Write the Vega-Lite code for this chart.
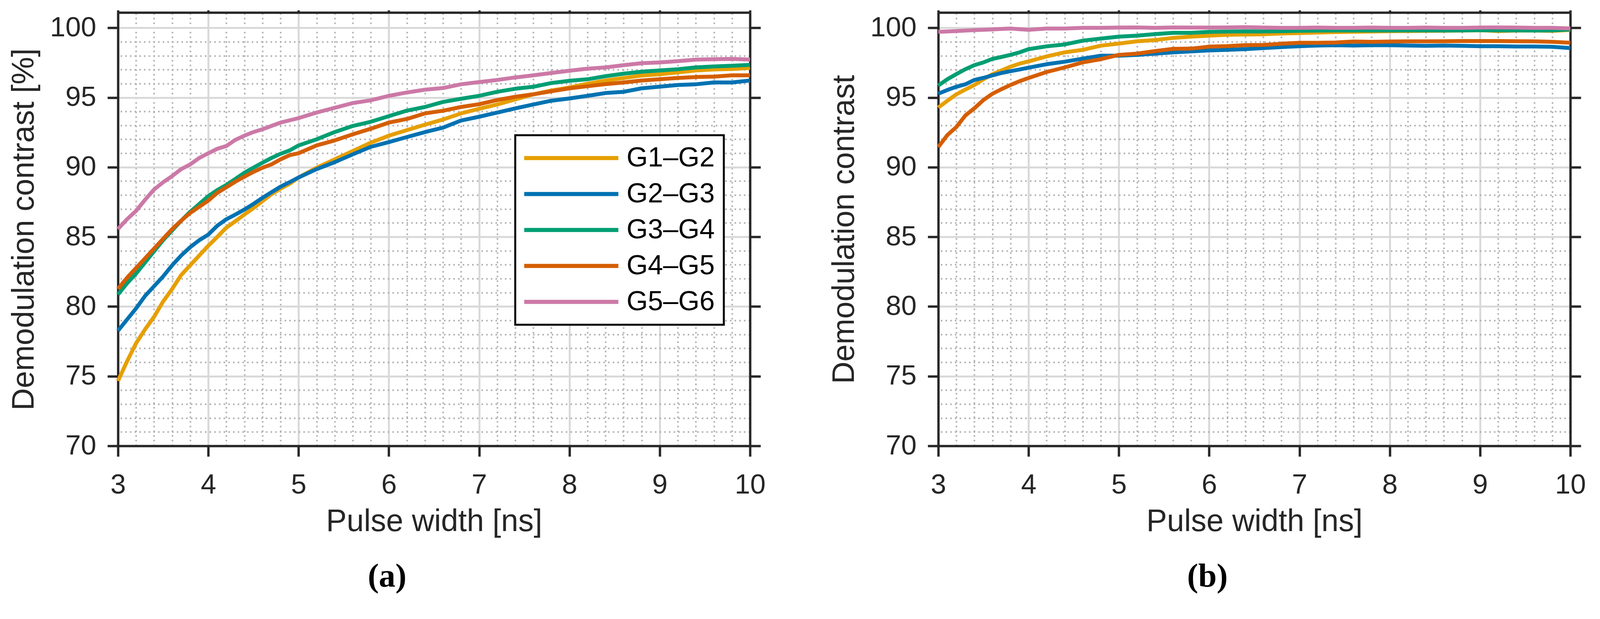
{
  "$schema": "https://vega.github.io/schema/vega-lite/v6.json",
  "background": "white",
  "padding": {"left": 22, "top": 23, "right": 20, "bottom": 10},
  "spacing": 162,
  "datasets": {
    "a": [
      {"x": 3.0, "G1–G2": 74.66, "G2–G3": 78.26, "G3–G4": 80.86, "G4–G5": 81.26, "G5–G6": 85.56},
      {"x": 3.1, "G1–G2": 76.06, "G2–G3": 79.06, "G3–G4": 81.66, "G4–G5": 82.06, "G5–G6": 86.26},
      {"x": 3.2, "G1–G2": 77.36, "G2–G3": 79.86, "G3–G4": 82.36, "G4–G5": 82.76, "G5–G6": 86.86},
      {"x": 3.3, "G1–G2": 78.36, "G2–G3": 80.76, "G3–G4": 83.16, "G4–G5": 83.46, "G5–G6": 87.66},
      {"x": 3.4, "G1–G2": 79.26, "G2–G3": 81.46, "G3–G4": 83.96, "G4–G5": 84.16, "G5–G6": 88.4},
      {"x": 3.5, "G1–G2": 80.36, "G2–G3": 82.16, "G3–G4": 84.76, "G4–G5": 84.86, "G5–G6": 88.92},
      {"x": 3.6, "G1–G2": 81.26, "G2–G3": 82.96, "G3–G4": 85.46, "G4–G5": 85.56, "G5–G6": 89.36},
      {"x": 3.7, "G1–G2": 82.26, "G2–G3": 83.66, "G3–G4": 86.16, "G4–G5": 86.16, "G5–G6": 89.86},
      {"x": 3.8, "G1–G2": 82.96, "G2–G3": 84.26, "G3–G4": 86.8, "G4–G5": 86.72, "G5–G6": 90.2},
      {"x": 3.9, "G1–G2": 83.66, "G2–G3": 84.76, "G3–G4": 87.36, "G4–G5": 87.16, "G5–G6": 90.66},
      {"x": 4.0, "G1–G2": 84.36, "G2–G3": 85.16, "G3–G4": 87.92, "G4–G5": 87.6, "G5–G6": 91.0},
      {"x": 4.1, "G1–G2": 85.0, "G2–G3": 85.8, "G3–G4": 88.36, "G4–G5": 88.16, "G5–G6": 91.32},
      {"x": 4.2, "G1–G2": 85.66, "G2–G3": 86.26, "G3–G4": 88.72, "G4–G5": 88.56, "G5–G6": 91.52},
      {"x": 4.3, "G1–G2": 86.12, "G2–G3": 86.6, "G3–G4": 89.16, "G4–G5": 88.96, "G5–G6": 91.96},
      {"x": 4.4, "G1–G2": 86.6, "G2–G3": 86.96, "G3–G4": 89.6, "G4–G5": 89.32, "G5–G6": 92.26},
      {"x": 4.5, "G1–G2": 87.06, "G2–G3": 87.36, "G3–G4": 89.96, "G4–G5": 89.66, "G5–G6": 92.52},
      {"x": 4.6, "G1–G2": 87.56, "G2–G3": 87.8, "G3–G4": 90.32, "G4–G5": 89.96, "G5–G6": 92.72},
      {"x": 4.7, "G1–G2": 88.06, "G2–G3": 88.2, "G3–G4": 90.66, "G4–G5": 90.2, "G5–G6": 92.96},
      {"x": 4.8, "G1–G2": 88.46, "G2–G3": 88.6, "G3–G4": 90.96, "G4–G5": 90.56, "G5–G6": 93.2},
      {"x": 4.9, "G1–G2": 88.8, "G2–G3": 88.92, "G3–G4": 91.2, "G4–G5": 90.86, "G5–G6": 93.36},
      {"x": 5.0, "G1–G2": 89.26, "G2–G3": 89.26, "G3–G4": 91.56, "G4–G5": 91.0, "G5–G6": 93.52},
      {"x": 5.2, "G1–G2": 89.96, "G2–G3": 89.86, "G3–G4": 92.0, "G4–G5": 91.56, "G5–G6": 93.92},
      {"x": 5.4, "G1–G2": 90.56, "G2–G3": 90.36, "G3–G4": 92.52, "G4–G5": 91.92, "G5–G6": 94.26},
      {"x": 5.6, "G1–G2": 91.16, "G2–G3": 90.92, "G3–G4": 92.96, "G4–G5": 92.36, "G5–G6": 94.6},
      {"x": 5.8, "G1–G2": 91.76, "G2–G3": 91.46, "G3–G4": 93.26, "G4–G5": 92.76, "G5–G6": 94.8},
      {"x": 6.0, "G1–G2": 92.26, "G2–G3": 91.8, "G3–G4": 93.66, "G4–G5": 93.2, "G5–G6": 95.12},
      {"x": 6.2, "G1–G2": 92.66, "G2–G3": 92.16, "G3–G4": 94.06, "G4–G5": 93.46, "G5–G6": 95.36},
      {"x": 6.4, "G1–G2": 93.05, "G2–G3": 92.52, "G3–G4": 94.32, "G4–G5": 93.86, "G5–G6": 95.56},
      {"x": 6.6, "G1–G2": 93.42, "G2–G3": 92.84, "G3–G4": 94.68, "G4–G5": 94.05, "G5–G6": 95.68},
      {"x": 6.8, "G1–G2": 93.86, "G2–G3": 93.35, "G3–G4": 94.91, "G4–G5": 94.32, "G5–G6": 95.95},
      {"x": 7.0, "G1–G2": 94.19, "G2–G3": 93.62, "G3–G4": 95.12, "G4–G5": 94.52, "G5–G6": 96.11},
      {"x": 7.2, "G1–G2": 94.5, "G2–G3": 93.92, "G3–G4": 95.41, "G4–G5": 94.82, "G5–G6": 96.26},
      {"x": 7.4, "G1–G2": 94.86, "G2–G3": 94.22, "G3–G4": 95.63, "G4–G5": 95.05, "G5–G6": 96.44},
      {"x": 7.6, "G1–G2": 95.23, "G2–G3": 94.5, "G3–G4": 95.77, "G4–G5": 95.23, "G5–G6": 96.59},
      {"x": 7.8, "G1–G2": 95.5, "G2–G3": 94.77, "G3–G4": 96.04, "G4–G5": 95.45, "G5–G6": 96.76},
      {"x": 8.0, "G1–G2": 95.72, "G2–G3": 94.93, "G3–G4": 96.2, "G4–G5": 95.66, "G5–G6": 96.92},
      {"x": 8.2, "G1–G2": 95.99, "G2–G3": 95.12, "G3–G4": 96.31, "G4–G5": 95.81, "G5–G6": 97.07},
      {"x": 8.4, "G1–G2": 96.22, "G2–G3": 95.32, "G3–G4": 96.53, "G4–G5": 95.96, "G5–G6": 97.16},
      {"x": 8.6, "G1–G2": 96.4, "G2–G3": 95.41, "G3–G4": 96.71, "G4–G5": 96.08, "G5–G6": 97.32},
      {"x": 8.8, "G1–G2": 96.58, "G2–G3": 95.66, "G3–G4": 96.85, "G4–G5": 96.22, "G5–G6": 97.46},
      {"x": 9.0, "G1–G2": 96.67, "G2–G3": 95.78, "G3–G4": 96.94, "G4–G5": 96.31, "G5–G6": 97.52},
      {"x": 9.2, "G1–G2": 96.8, "G2–G3": 95.9, "G3–G4": 97.03, "G4–G5": 96.4, "G5–G6": 97.61},
      {"x": 9.4, "G1–G2": 96.94, "G2–G3": 95.95, "G3–G4": 97.16, "G4–G5": 96.47, "G5–G6": 97.72},
      {"x": 9.6, "G1–G2": 97.01, "G2–G3": 96.08, "G3–G4": 97.23, "G4–G5": 96.5, "G5–G6": 97.75},
      {"x": 9.8, "G1–G2": 97.05, "G2–G3": 96.08, "G3–G4": 97.28, "G4–G5": 96.59, "G5–G6": 97.77},
      {"x": 10.0, "G1–G2": 97.12, "G2–G3": 96.22, "G3–G4": 97.34, "G4–G5": 96.59, "G5–G6": 97.72}
    ],
    "b": [
      {"x": 3.0, "G1–G2": 94.28, "G2–G3": 95.27, "G3–G4": 95.86, "G4–G5": 91.44, "G5–G6": 99.71},
      {"x": 3.1, "G1–G2": 94.76, "G2–G3": 95.54, "G3–G4": 96.31, "G4–G5": 92.3, "G5–G6": 99.74},
      {"x": 3.2, "G1–G2": 95.23, "G2–G3": 95.77, "G3–G4": 96.68, "G4–G5": 92.88, "G5–G6": 99.77},
      {"x": 3.3, "G1–G2": 95.57, "G2–G3": 95.95, "G3–G4": 97.03, "G4–G5": 93.71, "G5–G6": 99.8},
      {"x": 3.4, "G1–G2": 95.9, "G2–G3": 96.26, "G3–G4": 97.32, "G4–G5": 94.23, "G5–G6": 99.84},
      {"x": 3.5, "G1–G2": 96.31, "G2–G3": 96.41, "G3–G4": 97.52, "G4–G5": 94.82, "G5–G6": 99.86},
      {"x": 3.6, "G1–G2": 96.67, "G2–G3": 96.59, "G3–G4": 97.77, "G4–G5": 95.27, "G5–G6": 99.89},
      {"x": 3.7, "G1–G2": 96.94, "G2–G3": 96.76, "G3–G4": 97.91, "G4–G5": 95.6, "G5–G6": 99.92},
      {"x": 3.8, "G1–G2": 97.21, "G2–G3": 96.89, "G3–G4": 98.06, "G4–G5": 95.9, "G5–G6": 99.95},
      {"x": 3.9, "G1–G2": 97.43, "G2–G3": 97.01, "G3–G4": 98.24, "G4–G5": 96.17, "G5–G6": 99.9},
      {"x": 4.0, "G1–G2": 97.59, "G2–G3": 97.14, "G3–G4": 98.47, "G4–G5": 96.4, "G5–G6": 99.86},
      {"x": 4.2, "G1–G2": 97.95, "G2–G3": 97.39, "G3–G4": 98.67, "G4–G5": 96.83, "G5–G6": 99.95},
      {"x": 4.4, "G1–G2": 98.24, "G2–G3": 97.57, "G3–G4": 98.81, "G4–G5": 97.16, "G5–G6": 99.95},
      {"x": 4.6, "G1–G2": 98.42, "G2–G3": 97.79, "G3–G4": 99.08, "G4–G5": 97.52, "G5–G6": 100.0},
      {"x": 4.8, "G1–G2": 98.72, "G2–G3": 98.0, "G3–G4": 99.23, "G4–G5": 97.75, "G5–G6": 100.0},
      {"x": 5.0, "G1–G2": 98.87, "G2–G3": 98.0, "G3–G4": 99.37, "G4–G5": 98.06, "G5–G6": 100.02},
      {"x": 5.2, "G1–G2": 99.03, "G2–G3": 98.06, "G3–G4": 99.44, "G4–G5": 98.15, "G5–G6": 100.03},
      {"x": 5.4, "G1–G2": 99.12, "G2–G3": 98.15, "G3–G4": 99.55, "G4–G5": 98.33, "G5–G6": 100.0},
      {"x": 5.6, "G1–G2": 99.28, "G2–G3": 98.24, "G3–G4": 99.64, "G4–G5": 98.49, "G5–G6": 100.03},
      {"x": 5.8, "G1–G2": 99.37, "G2–G3": 98.31, "G3–G4": 99.64, "G4–G5": 98.51, "G5–G6": 100.02},
      {"x": 6.0, "G1–G2": 99.44, "G2–G3": 98.38, "G3–G4": 99.71, "G4–G5": 98.65, "G5–G6": 100.02},
      {"x": 6.2, "G1–G2": 99.5, "G2–G3": 98.42, "G3–G4": 99.73, "G4–G5": 98.69, "G5–G6": 100.03},
      {"x": 6.4, "G1–G2": 99.52, "G2–G3": 98.47, "G3–G4": 99.75, "G4–G5": 98.76, "G5–G6": 100.05},
      {"x": 6.6, "G1–G2": 99.54, "G2–G3": 98.55, "G3–G4": 99.74, "G4–G5": 98.77, "G5–G6": 100.02},
      {"x": 6.8, "G1–G2": 99.59, "G2–G3": 98.62, "G3–G4": 99.76, "G4–G5": 98.86, "G5–G6": 100.0},
      {"x": 7.0, "G1–G2": 99.63, "G2–G3": 98.68, "G3–G4": 99.79, "G4–G5": 98.93, "G5–G6": 100.0},
      {"x": 7.2, "G1–G2": 99.66, "G2–G3": 98.73, "G3–G4": 99.8, "G4–G5": 98.93, "G5–G6": 100.02},
      {"x": 7.4, "G1–G2": 99.7, "G2–G3": 98.75, "G3–G4": 99.81, "G4–G5": 98.95, "G5–G6": 100.0},
      {"x": 7.6, "G1–G2": 99.72, "G2–G3": 98.73, "G3–G4": 99.81, "G4–G5": 99.02, "G5–G6": 100.0},
      {"x": 7.8, "G1–G2": 99.74, "G2–G3": 98.75, "G3–G4": 99.81, "G4–G5": 99.0, "G5–G6": 100.02},
      {"x": 8.0, "G1–G2": 99.76, "G2–G3": 98.75, "G3–G4": 99.81, "G4–G5": 99.02, "G5–G6": 100.0},
      {"x": 8.2, "G1–G2": 99.77, "G2–G3": 98.73, "G3–G4": 99.82, "G4–G5": 99.03, "G5–G6": 100.0},
      {"x": 8.4, "G1–G2": 99.78, "G2–G3": 98.71, "G3–G4": 99.82, "G4–G5": 99.03, "G5–G6": 100.02},
      {"x": 8.6, "G1–G2": 99.79, "G2–G3": 98.73, "G3–G4": 99.81, "G4–G5": 99.04, "G5–G6": 100.0},
      {"x": 8.8, "G1–G2": 99.8, "G2–G3": 98.71, "G3–G4": 99.82, "G4–G5": 99.05, "G5–G6": 100.0},
      {"x": 9.0, "G1–G2": 99.83, "G2–G3": 98.68, "G3–G4": 99.83, "G4–G5": 99.05, "G5–G6": 100.02},
      {"x": 9.2, "G1–G2": 99.77, "G2–G3": 98.68, "G3–G4": 99.82, "G4–G5": 99.05, "G5–G6": 100.03},
      {"x": 9.4, "G1–G2": 99.8, "G2–G3": 98.66, "G3–G4": 99.82, "G4–G5": 99.04, "G5–G6": 100.02},
      {"x": 9.6, "G1–G2": 99.8, "G2–G3": 98.66, "G3–G4": 99.81, "G4–G5": 99.03, "G5–G6": 100.0},
      {"x": 9.8, "G1–G2": 99.78, "G2–G3": 98.64, "G3–G4": 99.82, "G4–G5": 99.0, "G5–G6": 100.0},
      {"x": 10.0, "G1–G2": 99.85, "G2–G3": 98.55, "G3–G4": 99.88, "G4–G5": 98.93, "G5–G6": 99.96}
    ]
  },
  "hconcat": [
    {
      "width": 1618,
      "height": 1109,
      "title": {"text": "(a)", "orient": "bottom", "anchor": "middle", "frame": "bounds", "offset": 60},
      "data": {"name": "a"},
      "transform": [{"fold": ["G1–G2", "G2–G3", "G3–G4", "G4–G5", "G5–G6"], "as": ["g", "c"]}],
      "layer": [
        {
          "mark": {"type": "line", "strokeOpacity": 0},
          "encoding": {
            "x": {"field": "x", "type": "quantitative", "scale": {"domain": [3, 10], "nice": false},
              "axis": {"orient": "top", "title": null, "values": [3.2, 3.4, 3.6, 3.8, 4.2, 4.4, 4.6, 4.8, 5.2, 5.4, 5.6, 5.8, 6.2, 6.4, 6.6, 6.8, 7.2, 7.4, 7.6, 7.8, 8.2, 8.4, 8.6, 8.8, 9.2, 9.4, 9.6, 9.8],
                "grid": true, "gridColor": "#b0b0b0", "gridWidth": 4, "gridDash": [4, 8], "ticks": false, "labels": false, "domain": false}},
            "y": {"field": "c", "type": "quantitative", "scale": {"domain": [70, 101.1], "nice": false, "zero": false},
              "axis": {"orient": "right", "title": null, "values": [71, 72, 73, 74, 76, 77, 78, 79, 81, 82, 83, 84, 86, 87, 88, 89, 91, 92, 93, 94, 96, 97, 98, 99],
                "grid": true, "gridColor": "#b0b0b0", "gridWidth": 4, "gridDash": [4, 8], "ticks": false, "labels": false, "domain": false}}
          }
        },
        {
          "mark": {"type": "line", "strokeOpacity": 0},
          "encoding": {
            "x": {"field": "x", "type": "quantitative",
              "axis": {"orient": "top", "title": null, "values": [4, 5, 6, 7, 8, 9], "grid": true, "gridColor": "#d9d9d9", "gridWidth": 5, "ticks": false, "labels": false, "domain": false}},
            "y": {"field": "c", "type": "quantitative",
              "axis": {"orient": "right", "title": null, "values": [75, 80, 85, 90, 95, 100], "grid": true, "gridColor": "#d9d9d9", "gridWidth": 5, "ticks": false, "labels": false, "domain": false}}
          }
        },
        {
          "mark": {"type": "line", "strokeOpacity": 0},
          "encoding": {
            "x": {"field": "x", "type": "quantitative",
              "axis": {"orient": "top", "title": null, "values": [3, 4, 5, 6, 7, 8, 9, 10], "grid": false, "labels": false, "ticks": true, "tickSize": 6, "tickColor": "#262626", "tickOpacity": 1}},
            "y": {"field": "c", "type": "quantitative",
              "axis": {"orient": "right", "title": null, "values": [70, 75, 80, 85, 90, 95, 100], "grid": false, "labels": false, "ticks": true, "tickSize": 27, "tickColor": "#262626", "tickOpacity": 1}}
          }
        },
        {
          "mark": {"type": "line", "strokeOpacity": 0},
          "encoding": {
            "x": {"field": "x", "type": "quantitative",
              "axis": {"orient": "bottom", "title": "Pulse width [ns]", "values": [3, 4, 5, 6, 7, 8, 9, 10], "grid": false, "ticks": true, "tickSize": 27, "tickColor": "#262626", "tickOpacity": 1, "labelPadding": 38, "titlePadding": 20}},
            "y": {"field": "c", "type": "quantitative",
              "axis": {"orient": "left", "title": "Demodulation contrast [%]", "values": [70, 75, 80, 85, 90, 95, 100], "grid": false, "ticks": true, "tickSize": 27, "tickColor": "#262626", "tickOpacity": 1, "labelPadding": 29, "titlePadding": 25}}
          }
        },
        {
          "mark": {"type": "line", "strokeWidth": 10, "strokeJoin": "round"},
          "encoding": {
            "x": {"field": "x", "type": "quantitative", "axis": null},
            "y": {"field": "c", "type": "quantitative", "axis": null},
            "color": {"field": "g", "type": "nominal",
              "scale": {"domain": ["G1–G2", "G2–G3", "G3–G4", "G4–G5", "G5–G6"], "range": ["#E69F00", "#0072B2", "#009E73", "#D55E00", "#CC79A7"]},
              "legend": {"orient": "none", "legendX": 1017, "legendY": 314}}
          }
        }
      ],
      "resolve": {"axis": {"x": "independent", "y": "independent"}}
    },
    {
      "width": 1618,
      "height": 1109,
      "title": {"text": "(b)", "orient": "bottom", "anchor": "middle", "frame": "bounds", "offset": 60},
      "data": {"name": "b"},
      "transform": [{"fold": ["G1–G2", "G2–G3", "G3–G4", "G4–G5", "G5–G6"], "as": ["g", "c"]}],
      "layer": [
        {
          "mark": {"type": "line", "strokeOpacity": 0},
          "encoding": {
            "x": {"field": "x", "type": "quantitative", "scale": {"domain": [3, 10], "nice": false},
              "axis": {"orient": "top", "title": null, "values": [3.2, 3.4, 3.6, 3.8, 4.2, 4.4, 4.6, 4.8, 5.2, 5.4, 5.6, 5.8, 6.2, 6.4, 6.6, 6.8, 7.2, 7.4, 7.6, 7.8, 8.2, 8.4, 8.6, 8.8, 9.2, 9.4, 9.6, 9.8],
                "grid": true, "gridColor": "#b0b0b0", "gridWidth": 4, "gridDash": [4, 8], "ticks": false, "labels": false, "domain": false}},
            "y": {"field": "c", "type": "quantitative", "scale": {"domain": [70, 101.1], "nice": false, "zero": false},
              "axis": {"orient": "right", "title": null, "values": [71, 72, 73, 74, 76, 77, 78, 79, 81, 82, 83, 84, 86, 87, 88, 89, 91, 92, 93, 94, 96, 97, 98, 99],
                "grid": true, "gridColor": "#b0b0b0", "gridWidth": 4, "gridDash": [4, 8], "ticks": false, "labels": false, "domain": false}}
          }
        },
        {
          "mark": {"type": "line", "strokeOpacity": 0},
          "encoding": {
            "x": {"field": "x", "type": "quantitative",
              "axis": {"orient": "top", "title": null, "values": [4, 5, 6, 7, 8, 9], "grid": true, "gridColor": "#d9d9d9", "gridWidth": 5, "ticks": false, "labels": false, "domain": false}},
            "y": {"field": "c", "type": "quantitative",
              "axis": {"orient": "right", "title": null, "values": [75, 80, 85, 90, 95, 100], "grid": true, "gridColor": "#d9d9d9", "gridWidth": 5, "ticks": false, "labels": false, "domain": false}}
          }
        },
        {
          "mark": {"type": "line", "strokeOpacity": 0},
          "encoding": {
            "x": {"field": "x", "type": "quantitative",
              "axis": {"orient": "top", "title": null, "values": [3, 4, 5, 6, 7, 8, 9, 10], "grid": false, "labels": false, "ticks": true, "tickSize": 6, "tickColor": "#262626", "tickOpacity": 1}},
            "y": {"field": "c", "type": "quantitative",
              "axis": {"orient": "right", "title": null, "values": [70, 75, 80, 85, 90, 95, 100], "grid": false, "labels": false, "ticks": true, "tickSize": 27, "tickColor": "#262626", "tickOpacity": 1}}
          }
        },
        {
          "mark": {"type": "line", "strokeOpacity": 0},
          "encoding": {
            "x": {"field": "x", "type": "quantitative",
              "axis": {"orient": "bottom", "title": "Pulse width [ns]", "values": [3, 4, 5, 6, 7, 8, 9, 10], "grid": false, "ticks": true, "tickSize": 27, "tickColor": "#262626", "tickOpacity": 1, "labelPadding": 38, "titlePadding": 20}},
            "y": {"field": "c", "type": "quantitative",
              "axis": {"orient": "left", "title": "Demodulation contrast", "values": [70, 75, 80, 85, 90, 95, 100], "grid": false, "ticks": true, "tickSize": 27, "tickColor": "#262626", "tickOpacity": 1, "labelPadding": 29, "titlePadding": 25}}
          }
        },
        {
          "mark": {"type": "line", "strokeWidth": 10, "strokeJoin": "round"},
          "encoding": {
            "x": {"field": "x", "type": "quantitative", "axis": null},
            "y": {"field": "c", "type": "quantitative", "axis": null},
            "color": {"field": "g", "type": "nominal",
              "scale": {"domain": ["G1–G2", "G2–G3", "G3–G4", "G4–G5", "G5–G6"], "range": ["#E69F00", "#0072B2", "#009E73", "#D55E00", "#CC79A7"]},
              "legend": {"orient": "none", "legendX": 1017, "legendY": 314}}
          }
        }
      ],
      "resolve": {"axis": {"x": "independent", "y": "independent"}}
    }
  ],
  "config": {
    "font": "Liberation Sans",
    "view": {"stroke": null},
    "axis": {
      "domain": true,
      "domainColor": "#262626",
      "domainWidth": 6,
      "tickColor": "#262626",
      "tickWidth": 6,
      "labelFont": "Liberation Sans",
      "labelFontSize": 71,
      "labelColor": "#262626",
      "labelOverlap": false,
      "labelFlush": false,
      "labelBound": false,
      "titleFont": "Liberation Sans",
      "titleFontSize": 79,
      "titleFontWeight": "normal",
      "titleColor": "#262626"
    },
    "legend": {
      "title": null,
      "symbolType": "M-4,0H4",
      "symbolSize": 3630,
      "symbolStrokeWidth": 10.5,
      "symbolOffset": 85,
      "labelOffset": 106,
      "labelFont": "Liberation Sans",
      "labelFontSize": 70,
      "labelColor": "#000000",
      "labelLimit": 0,
      "rowPadding": 21,
      "padding": 23,
      "strokeColor": "#000000",
      "strokeWidth": 5,
      "fillColor": "#ffffff"
    },
    "title": {
      "font": "Liberation Serif",
      "fontSize": 85,
      "fontWeight": "bold",
      "color": "#000000"
    }
  }
}
